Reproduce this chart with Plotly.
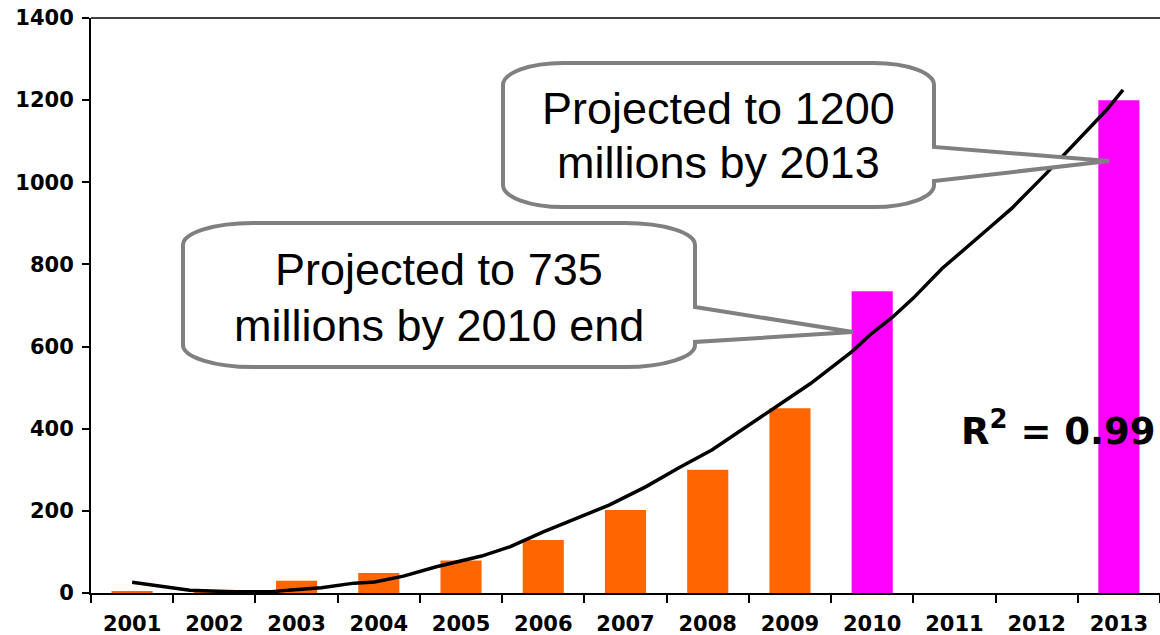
import plotly.graph_objects as go

# ---- data ----
years = ["2001", "2002", "2003", "2004", "2005", "2006", "2007",
         "2008", "2009", "2010", "2011", "2012", "2013"]
users = [4, 8, 30, 49, 79, 129, 202, 300, 450, 735, 0, 0, 1200]
projected = [False] * 9 + [True, False, False, True]

# trend line (x = category index, 0 = 2001)
trend_x = [0.0, 0.5, 0.7, 1.2, 1.7, 1.9, 2.3, 2.7, 2.95, 3.3, 3.7, 4.25, 4.6,
           5.0, 5.4, 5.8, 6.25, 6.65, 7.05, 7.45, 7.85, 8.25, 8.75, 9.0,
           9.25, 9.5, 9.85, 10.4, 10.7, 11.1, 11.5, 11.85, 12.05]
trend_y = [26, 11, 7, 3, 3, 7, 13, 24, 27, 41, 64, 90, 113,
           149, 182, 214, 259, 305, 348, 401, 456, 510, 587, 633,
           672, 718, 790, 885, 937, 1018, 1103, 1176, 1225]

y_ticks = [0, 200, 400, 600, 800, 1000, 1200, 1400]

callout_texts = [["Projected to 1200", "millions by 2013"],
                 ["Projected to 735", "millions by 2010 end"]]
r2_text = "R<sup>2</sup> = 0.99"

# ---- styling ----
ORANGE = "#FF6600"
MAGENTA = "#FF00FF"
bar_colors = [MAGENTA if p else ORANGE for p in projected]

W, H = 1160, 635
L, R, T, B = 91, 1160, 18, 593


def px(x):
    return (x - L) / (R - L)


def py(y):
    return (B - y) / (B - T)


def callout_path(left, right, top, bottom, rx, ry, p1, p2, tipx, tipy):
    k = 0.552
    pts = []
    pts.append(f"M {px(left + rx)},{py(top)}")
    pts.append(f"L {px(right - rx)},{py(top)}")
    pts.append(f"C {px(right - rx + k * rx)},{py(top)} {px(right)},{py(top + ry - k * ry)} {px(right)},{py(top + ry)}")
    pts.append(f"L {px(right)},{py(p1)}")
    pts.append(f"L {px(tipx)},{py(tipy)}")
    pts.append(f"L {px(right)},{py(p2)}")
    pts.append(f"L {px(right)},{py(bottom - ry)}")
    pts.append(f"C {px(right)},{py(bottom - ry + k * ry)} {px(right - rx + k * rx)},{py(bottom)} {px(right - rx)},{py(bottom)}")
    pts.append(f"L {px(left + rx)},{py(bottom)}")
    pts.append(f"C {px(left + rx - k * rx)},{py(bottom)} {px(left)},{py(bottom - ry + k * ry)} {px(left)},{py(bottom - ry)}")
    pts.append(f"L {px(left)},{py(top + ry)}")
    pts.append(f"C {px(left)},{py(top + ry - k * ry)} {px(left + rx - k * rx)},{py(top)} {px(left + rx)},{py(top)}")
    pts.append("Z")
    return " ".join(pts)


fig = go.Figure()
fig.add_trace(go.Bar(x=years, y=users, marker=dict(color=bar_colors, line=dict(width=0)),
                     width=0.5, showlegend=False, hoverinfo="skip"))
fig.add_trace(go.Scatter(x=trend_x, y=trend_y, xaxis="x2", yaxis="y", mode="lines",
                         line=dict(color="black", width=3.5), showlegend=False, hoverinfo="skip"))

shapes = [
    dict(type="line", xref="paper", yref="paper", x0=0, x1=1, y0=1, y1=1,
         line=dict(color="black", width=1.5)),
    dict(type="path", xref="paper", yref="paper", layer="above",
         path=callout_path(503, 934, 63, 207, 60, 22, 147, 181, 1109, 161),
         fillcolor="white", line=dict(color="#808080", width=4)),
    dict(type="path", xref="paper", yref="paper", layer="above",
         path=callout_path(183, 695, 223, 367, 70, 22, 307, 342, 853, 332),
         fillcolor="white", line=dict(color="#808080", width=4)),
]

ann_font = dict(family="Liberation Sans, Arial, sans-serif", size=45, color="black")
annotations = []
for (cx, ys), lines in zip([(718, (109, 162)), (439, (269, 325))], callout_texts):
    for yy, t in zip(ys, lines):
        annotations.append(dict(xref="paper", yref="paper", x=px(cx), y=py(yy), text=t,
                                showarrow=False, xanchor="center", yanchor="middle", font=ann_font))
annotations.append(dict(xref="paper", yref="paper", x=px(1058), y=py(428), text=r2_text,
                        showarrow=False, xanchor="center", yanchor="middle",
                        font=dict(family="DejaVu Sans", size=37, color="black", weight="bold")))

tick_font = dict(family="DejaVu Sans", size=21, color="black", weight="bold")
fig.update_layout(
    width=W, height=H,
    margin=dict(l=L, r=W - R, t=T, b=H - B, pad=0, autoexpand=False),
    paper_bgcolor="white", plot_bgcolor="white",
    bargap=0.5,
    xaxis=dict(type="category", range=[-0.5, 12.5], tickson="boundaries", ticks="outside",
               ticklen=8, tickwidth=2, tickcolor="black", showline=True, linewidth=2,
               linecolor="black", showgrid=False, tickfont=tick_font, ticklabelstandoff=11,
               automargin=False),
    xaxis2=dict(overlaying="x", range=[-0.5, 12.5], visible=False),
    yaxis=dict(range=[0, 1400], tickvals=y_ticks, ticks="outside", ticklen=7, tickwidth=2,
               tickcolor="black", showline=True, linewidth=2, linecolor="black",
               showgrid=False, zeroline=False, tickfont=tick_font, ticklabelstandoff=4,
               automargin=False),
    shapes=shapes,
    annotations=annotations,
)

fig.write_html("out.html", config={"displayModeBar": False},
               post_script="document.body.style.margin='0px';")
